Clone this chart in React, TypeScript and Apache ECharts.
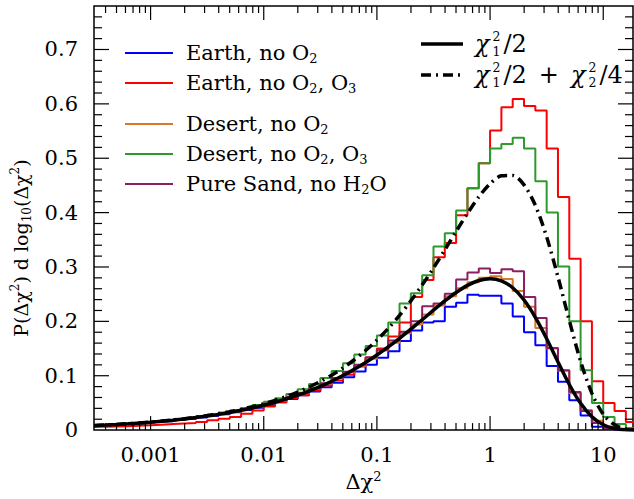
import React, { useEffect, useRef } from 'react';
import * as echarts from 'echarts';

// Histogram bins: 10 per decade in log10(Δχ²), first bin starts at 10^-3.5
const BIN_START_EXP = -3.5;
const BIN_WIDTH_EXP = 0.1;

const earthNoO2 = [
  0.0095, 0.0102, 0.011, 0.012, 0.0135, 0.015, 0.0165, 0.0185, 0.0205, 0.023,
  0.026, 0.029, 0.033, 0.037, 0.041, 0.046, 0.051, 0.057, 0.064, 0.071,
  0.079, 0.087, 0.097, 0.108, 0.12, 0.133, 0.145, 0.164, 0.183, 0.198,
  0.2, 0.227, 0.234, 0.249, 0.247, 0.247, 0.233, 0.209, 0.18, 0.156,
  0.118, 0.089, 0.055, 0.027, 0.006, 0.002, 0.0005, 0.0,
];
const earthNoO2O3 = [
  0.006, 0.0065, 0.007, 0.008, 0.009, 0.01, 0.011, 0.012, 0.013, 0.015,
  0.018, 0.021, 0.024, 0.03, 0.036, 0.0436, 0.051, 0.059, 0.064, 0.073,
  0.082, 0.091, 0.102, 0.117, 0.133, 0.15, 0.172, 0.198, 0.245, 0.276,
  0.318, 0.344, 0.395, 0.445, 0.491, 0.551, 0.594, 0.609, 0.596, 0.588,
  0.518, 0.4285, 0.315, 0.2, 0.09, 0.05, 0.035, 0.015,
];
const desertNoO2 = [
  0.0088, 0.0098, 0.0108, 0.0123, 0.0136, 0.0155, 0.0172, 0.0196, 0.0216, 0.0246,
  0.0272, 0.0308, 0.0342, 0.0388, 0.043, 0.0487, 0.054, 0.0612, 0.0676, 0.0765,
  0.0848, 0.0955, 0.1058, 0.1185, 0.131, 0.1462, 0.1605, 0.178, 0.194, 0.2125,
  0.229, 0.246, 0.261, 0.272, 0.28, 0.283, 0.278, 0.256, 0.227, 0.188,
  0.15, 0.109, 0.068, 0.037, 0.017, 0.006, 0.0018, 0.0004,
];
const desertNoO2O3 = [
  0.0088, 0.0099, 0.0111, 0.0125, 0.014, 0.0158, 0.0177, 0.02, 0.0224, 0.0253,
  0.0284, 0.0322, 0.0361, 0.0408, 0.046, 0.052, 0.0585, 0.0662, 0.075, 0.085,
  0.096, 0.1085, 0.123, 0.139, 0.1545, 0.174, 0.198, 0.233, 0.2515, 0.285,
  0.3376, 0.362, 0.404, 0.445, 0.491, 0.518, 0.526, 0.5376, 0.518, 0.4576,
  0.4, 0.301, 0.2, 0.11, 0.05, 0.024, 0.011, 0.004,
];
const pureSandNoH2O = [
  0.0087, 0.0097, 0.011, 0.0121, 0.0138, 0.0153, 0.0175, 0.0193, 0.0219, 0.0243,
  0.0276, 0.0305, 0.0348, 0.0386, 0.0436, 0.0485, 0.0548, 0.061, 0.0688, 0.0765,
  0.086, 0.0958, 0.1075, 0.12, 0.134, 0.148, 0.165, 0.181, 0.2, 0.228,
  0.2327, 0.251, 0.277, 0.29, 0.297, 0.289, 0.296, 0.292, 0.245, 0.206,
  0.151, 0.11, 0.07, 0.035, 0.013, 0.004, 0.001, 0.0,
];

// Smooth reference curves sampled every 0.1 in log10(Δχ²) from 10^-3.5
const CURVE_START_EXP = -3.5;
const CURVE_STEP_EXP = 0.1;
const chi1Half = [
  0.00817, 0.00916, 0.01028, 0.01154, 0.01295, 0.01452, 0.01629, 0.01827, 0.0205, 0.02299,
  0.02579, 0.02892, 0.03244, 0.03637, 0.04078, 0.0457, 0.05121, 0.05737, 0.06424, 0.07189,
  0.0804, 0.08984, 0.10029, 0.1118, 0.12441, 0.13817, 0.15303, 0.16892, 0.18569, 0.203,
  0.22049, 0.23752, 0.25309, 0.26614, 0.27516, 0.27858, 0.27456, 0.26182, 0.23924, 0.20734,
  0.16806, 0.1252, 0.08392, 0.04918, 0.02439, 0.00979, 0.00301, 0.00066, 0.0001,
];
const chi1HalfChi2Quarter = [
  0.00826, 0.00928, 0.01043, 0.01172, 0.01317, 0.01481, 0.01665, 0.01873, 0.02107, 0.02371,
  0.0267, 0.03007, 0.03388, 0.03818, 0.04305, 0.04857, 0.05481, 0.06189, 0.06992, 0.07903,
  0.08936, 0.10107, 0.11435, 0.1294, 0.14638, 0.16555, 0.18705, 0.21106, 0.23767, 0.26676,
  0.29819, 0.33143, 0.36537, 0.39861, 0.42884, 0.45315, 0.46761, 0.46837, 0.451, 0.41327,
  0.35533, 0.28174, 0.20166, 0.12658, 0.06747, 0.02918, 0.00969, 0.00232, 0.00036,
];

const xTickValues = [0.001, 0.01, 0.1, 1, 10];
const xTickLabels = ['0.001', '0.01', '0.1', '1', '10'];
const yTickValues = [0, 0.1, 0.2, 0.3, 0.4, 0.5, 0.6, 0.7];
const yTickLabels = ['0', '0.1', '0.2', '0.3', '0.4', '0.5', '0.6', '0.7'];

const X_MIN = Math.pow(10, -3.5);
const X_MAX = Math.pow(10, 1.263);
const Y_MIN = 0;
const Y_MAX = 0.78;

const FONT = '"DejaVu Serif", serif';

const histSeries = [
  { name: 'Earth, no O2', label: 'Earth, no O{s|2}', color: '#0000ff', values: earthNoO2 },
  { name: 'Earth, no O2, O3', label: 'Earth, no O{s|2}, O{s|3}', color: '#ff0000', values: earthNoO2O3 },
  { name: 'Desert, no O2', label: 'Desert, no O{s|2}', color: '#d8782a', values: desertNoO2 },
  { name: 'Desert, no O2, O3', label: 'Desert, no O{s|2}, O{s|3}', color: '#2e9a2e', values: desertNoO2O3 },
  { name: 'Pure Sand, no H2O', label: 'Pure Sand, no H{s|2}O', color: '#8b1f5f', values: pureSandNoH2O },
];

function histData(values: number[]) {
  const pts: number[][] = values.map((v, i) => [Math.pow(10, BIN_START_EXP + BIN_WIDTH_EXP * i), v]);
  pts.push([Math.pow(10, BIN_START_EXP + BIN_WIDTH_EXP * values.length), values[values.length - 1]]);
  return pts;
}
function curveData(values: number[]) {
  return values.map((v, i) => [Math.pow(10, CURVE_START_EXP + CURVE_STEP_EXP * i), v]);
}

function xTickData() {
  const out: number[][] = [];
  for (let d = -4; d <= 1; d++) {
    for (let k = 1; k <= 9; k++) {
      const v = k * Math.pow(10, d);
      if (v > X_MIN * 1.001 && v < X_MAX * 0.999) out.push([v, k === 1 ? 1 : 0]);
    }
  }
  return out;
}
function yTickData() {
  const out: number[][] = [];
  for (let i = 1; i < 39; i++) {
    const v = i * 0.02;
    out.push([X_MIN, v, i % 5 === 0 ? 1 : 0]);
  }
  return out;
}

let measureCtx: CanvasRenderingContext2D | null = null;
function textWidth(t: string, size: number, italic = false) {
  if (!measureCtx) measureCtx = document.createElement('canvas').getContext('2d');
  measureCtx!.font = `${italic ? 'italic ' : ''}${size}px "DejaVu Serif"`;
  return measureCtx!.measureText(t).width;
}

const MAIN_SIZE = 24;
const SCRIPT_SIZE = 12.5;
const SCRIPT_LINE = 15.5;

type Part = { t?: string; it?: boolean; sup?: string; sub?: string; gap?: number };
function mathLabel(x0: number, y: number, parts: Part[]) {
  const els: any[] = [];
  let x = x0;
  const mk = (t: string, px: number, py: number, size: number, italic: boolean, lh: number) => ({
    type: 'text',
    x: px,
    y: py,
    silent: true,
    style: {
      text: t,
      fill: '#000',
      fontFamily: FONT,
      fontSize: size,
      fontStyle: italic ? 'italic' : 'normal',
      lineHeight: lh,
      align: 'left',
      verticalAlign: 'middle',
    },
  });
  for (const p of parts) {
    if (p.gap) {
      x += p.gap;
    } else if (p.sup !== undefined) {
      const w = Math.max(textWidth(p.sup, SCRIPT_SIZE), textWidth(p.sub || '', SCRIPT_SIZE));
      // superscript over subscript, stacked in one text block
      els.push(mk(p.sup + '\n' + (p.sub || ''), x + 3, y, SCRIPT_SIZE, false, SCRIPT_LINE));
      x += w + 6;
    } else if (p.t) {
      els.push(mk(p.t, x, y, MAIN_SIZE, !!p.it, 26));
      x += textWidth(p.t, MAIN_SIZE, !!p.it);
    }
  }
  return els;
}

function buildOption() {
  const tickStyle = { stroke: '#000', lineWidth: 1.2 };
  const series: any[] = histSeries.map((s) => ({
    name: s.name,
    type: 'line',
    step: 'end',
    data: histData(s.values),
    symbol: 'none',
    lineStyle: { color: s.color, width: 2 },
    itemStyle: { color: s.color },
    z: 2,
  }));
  series.push({
    name: 'chi1/2',
    type: 'line',
    data: curveData(chi1Half),
    symbol: 'none',
    smooth: 0.3,
    lineStyle: { color: '#000', width: 3.5 },
    itemStyle: { color: '#000' },
    z: 4,
  });
  series.push({
    name: 'chi1/2 + chi2/4',
    type: 'line',
    data: curveData(chi1HalfChi2Quarter),
    symbol: 'none',
    smooth: 0.3,
    lineStyle: { color: '#000', width: 3.5, type: [10, 5, 2, 5] },
    itemStyle: { color: '#000' },
    z: 3,
  });
  series.push({
    type: 'custom',
    data: xTickData(),
    encode: { x: 0, y: 1 },
    z: 10,
    silent: true,
    renderItem: (_p: any, api: any) => {
      const v = api.value(0);
      const major = api.value(1) === 1;
      const len = major ? 14 : 7;
      const b = api.coord([v, Y_MIN]);
      const t = api.coord([v, Y_MAX]);
      return {
        type: 'group',
        children: [
          { type: 'line', shape: { x1: b[0], y1: b[1], x2: b[0], y2: b[1] - len }, style: tickStyle },
          { type: 'line', shape: { x1: t[0], y1: t[1], x2: t[0], y2: t[1] + len }, style: tickStyle },
        ],
      };
    },
  });
  series.push({
    type: 'custom',
    data: yTickData(),
    encode: { x: 0, y: 1 },
    z: 10,
    silent: true,
    renderItem: (_p: any, api: any) => {
      const v = api.value(1);
      const major = api.value(2) === 1;
      const len = major ? 15 : 8;
      const l = api.coord([X_MIN, v]);
      const r = api.coord([X_MAX, v]);
      return {
        type: 'group',
        children: [
          { type: 'line', shape: { x1: l[0], y1: l[1], x2: l[0] + len, y2: l[1] }, style: tickStyle },
          { type: 'line', shape: { x1: r[0], y1: r[1], x2: r[0] - len, y2: r[1] }, style: tickStyle },
        ],
      };
    },
  });

  const legendText = {
    fontFamily: FONT,
    fontSize: 21,
    color: '#000',
    lineHeight: 24,
    rich: {
      s: { fontFamily: FONT, fontSize: 13, lineHeight: 11, verticalAlign: 'bottom', color: '#000' },
      g: { width: 8 },
    },
  };
  const fmt = (name: string) => {
    const s = histSeries.find((h) => h.name === name);
    return '{g| }' + (s ? s.label : name);
  };
  const legendBase = {
    orient: 'vertical',
    left: 125,
    padding: 0,
    icon: 'rect',
    itemWidth: 48,
    itemHeight: 2,
    itemGap: 6,
    selectedMode: false,
    formatter: fmt,
    textStyle: legendText,
  };

  const lx1 = 421, lx2 = 463, tx = 475, y1 = 44, y2 = 75;
  const graphic: any[] = [
    { type: 'line', silent: true, shape: { x1: lx1, y1: y1, x2: lx2, y2: y1 }, style: { stroke: '#000', lineWidth: 3.5 } },
    {
      type: 'line',
      silent: true,
      shape: { x1: lx1, y1: y2, x2: lx2, y2: y2 },
      style: { stroke: '#000', lineWidth: 3.5, lineDash: [10, 5, 2, 5] },
    },
    ...mathLabel(tx, y1, [{ t: 'χ', it: true }, { sup: '2', sub: '1' }, { t: '/2' }]),
    ...mathLabel(tx, y2, [
      { t: 'χ', it: true },
      { sup: '2', sub: '1' },
      { t: '/2' },
      { gap: 12 },
      { t: '+' },
      { gap: 12 },
      { t: 'χ', it: true },
      { sup: '2', sub: '2' },
      { t: '/4' },
    ]),
    {
      type: 'text',
      x: 21,
      y: 248,
      rotation: Math.PI / 2,
      silent: true,
      style: {
        text: 'P(Δχ{sup|2}) d log{sub|10}(Δχ{sup|2})',
        fill: '#000',
        fontFamily: FONT,
        fontSize: 19,
        lineHeight: 24,
        align: 'center',
        verticalAlign: 'middle',
        rich: {
          sup: { fontFamily: FONT, fontSize: 12, lineHeight: 12, verticalAlign: 'top', fill: '#000' },
          sub: { fontFamily: FONT, fontSize: 12, lineHeight: 11, verticalAlign: 'bottom', fill: '#000' },
        },
      },
    },
  ];

  return {
    animation: false,
    backgroundColor: '#fff',
    grid: {
      left: 94,
      right: 1,
      top: 6,
      bottom: 64,
      show: true,
      borderColor: '#000',
      borderWidth: 1.5,
      backgroundColor: 'transparent',
    },
    legend: [
      { ...legendBase, top: 41, data: [histSeries[0].name, histSeries[1].name] },
      { ...legendBase, top: 112, data: [histSeries[2].name, histSeries[3].name, histSeries[4].name] },
    ],
    xAxis: {
      type: 'log',
      logBase: 10,
      min: X_MIN,
      max: X_MAX,
      name: 'Δχ{sup|2}',
      nameLocation: 'middle',
      nameGap: 39,
      nameTextStyle: {
        fontFamily: FONT,
        fontSize: 21,
        color: '#000',
        lineHeight: 24,
        rich: { sup: { fontFamily: FONT, fontSize: 13, lineHeight: 12, verticalAlign: 'top', color: '#000' } },
      },
      axisLine: { show: false },
      axisTick: { show: false },
      splitLine: { show: false },
      minorTick: { show: false },
      axisLabel: {
        showMinLabel: false,
        showMaxLabel: false,
        margin: 14,
        fontFamily: FONT,
        fontSize: 21,
        color: '#000',
        formatter: (v: number) => {
          const i = xTickValues.findIndex((t) => Math.abs(Math.log10(v) - Math.log10(t)) < 0.01);
          return i >= 0 ? xTickLabels[i] : '';
        },
      },
    },
    yAxis: {
      type: 'value',
      min: Y_MIN,
      max: Y_MAX,
      interval: 0.1,
      axisLine: { show: false },
      axisTick: { show: false },
      splitLine: { show: false },
      axisLabel: {
        showMaxLabel: false,
        margin: 16,
        fontFamily: FONT,
        fontSize: 21,
        color: '#000',
        formatter: (v: number) => {
          const i = yTickValues.findIndex((t) => Math.abs(v - t) < 1e-6);
          return i >= 0 ? yTickLabels[i] : '';
        },
      },
    },
    graphic,
    series,
  };
}

export default function App() {
  const ref = useRef<HTMLDivElement>(null);
  useEffect(() => {
    if (!ref.current) return;
    const chart = echarts.init(ref.current, null, { renderer: 'svg' });
    chart.setOption(buildOption() as any);
    return () => chart.dispose();
  }, []);
  return (
    <div
      ref={ref}
      style={{ position: 'fixed', left: 0, top: 0, width: 634, height: 499, background: '#fff' }}
    />
  );
}
